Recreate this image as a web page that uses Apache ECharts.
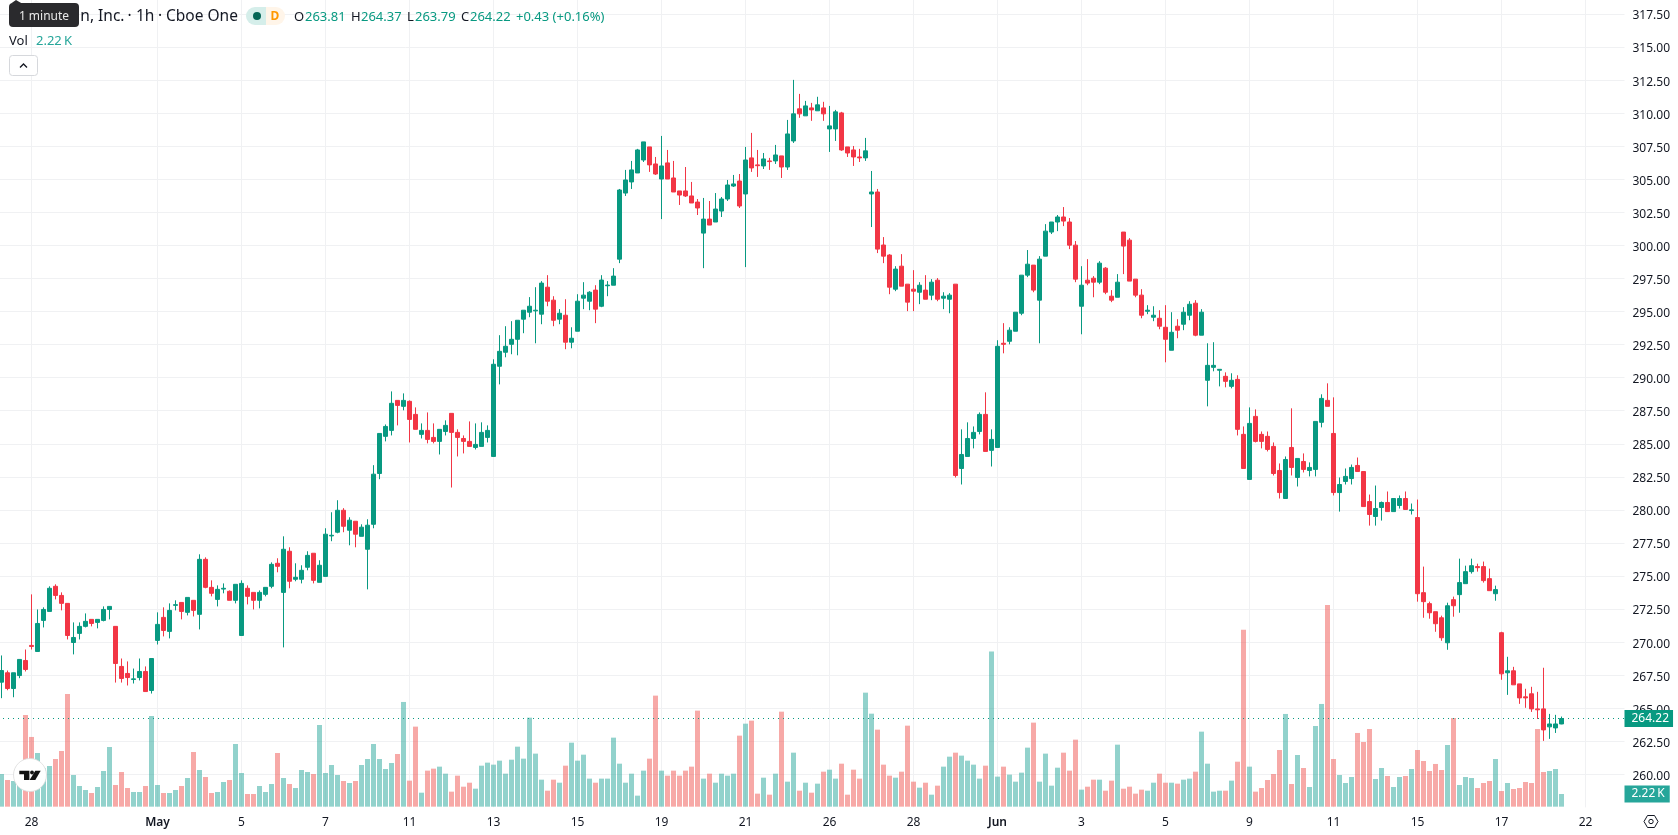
<!DOCTYPE html>
<html>
<head>
<meta charset="utf-8">
<title>Hourly price and volume</title>
<script src="https://cdn.jsdelivr.net/npm/echarts@6/dist/echarts.min.js"></script>
<style>
html,body{margin:0;padding:0;background:#fff;overflow:hidden}
#chart{width:1678px;height:835px}
</style>
</head>
<body>
<div id="chart"></div>
<script>
// Hourly session bars, oldest first.
const opens = [
266.97,267.68,266.49,267.47,268.61,269.75,269.29,271.64,272.32,274.22,
273.53,272.93,269.97,270.66,271.19,271.72,271.49,271.64,272.47,271.19,
268.16,267.63,267.17,267.32,267.78,266.34,270.13,271.87,270.81,272.78,
273.00,272.25,273.16,272.10,276.26,274.14,273.23,274.01,273.84,273.16,
270.50,274.07,273.76,273.16,273.61,274.22,275.96,273.76,276.87,274.75,
274.75,275.66,276.72,274.52,274.97,278.03,278.31,279.97,278.46,279.14,
278.00,277.02,278.91,282.75,285.56,286.01,288.28,287.83,288.21,287.22,
285.71,286.01,285.48,285.18,285.93,287.30,285.86,285.40,285.18,284.72,
284.80,285.48,284.04,290.86,291.92,292.52,292.90,294.42,294.95,295.05,
294.80,296.84,295.86,294.42,294.72,292.68,293.51,296.01,295.78,296.62,
295.40,296.95,296.99,298.96,303.96,304.80,305.48,306.46,307.45,306.16,
305.02,306.24,305.10,304.12,304.12,303.74,303.28,300.93,301.99,301.77,
302.60,303.51,304.49,304.87,303.89,306.62,306.09,306.01,306.39,306.39,
306.77,305.93,307.90,310.33,309.80,310.40,310.18,310.40,308.81,308.81,
310.02,307.45,307.22,306.69,306.62,303.89,304.04,300.03,299.27,296.69,
298.43,297.07,296.69,296.46,296.62,296.24,297.37,296.01,295.93,297.07,
283.13,284.04,285.40,285.93,287.22,284.50,284.72,292.60,292.75,293.51,
294.87,297.75,298.51,295.86,299.19,301.01,301.77,302.15,301.77,300.02,
295.40,297.37,297.52,297.22,298.28,296.16,296.08,301.01,300.40,297.45,
296.24,295.02,294.57,294.49,293.81,292.07,293.89,294.04,294.72,295.63,
293.21,289.80,290.78,290.56,290.10,289.34,289.87,285.71,282.30,287.07,
285.71,285.56,284.80,282.98,280.86,284.72,282.45,283.66,282.98,283.06,
286.62,288.28,285.78,281.31,282.15,282.37,283.36,282.90,280.63,279.50,
280.18,280.56,279.87,280.33,280.86,279.95,279.42,273.74,272.91,272.30,
271.84,269.95,273.21,273.59,274.42,275.33,275.71,275.71,274.80,273.66,
270.71,267.68,267.83,266.84,265.86,266.09,264.95,264.95,263.59,263.51,
263.81];

const closes = [
267.85,266.49,267.68,268.69,267.93,269.67,271.41,272.47,274.07,273.53,
272.93,270.50,270.35,271.19,271.57,271.41,271.72,272.47,272.70,268.38,
267.25,267.32,267.22,267.78,266.26,268.76,271.34,270.88,272.40,272.83,
272.32,273.38,272.40,276.26,274.14,273.69,273.99,274.07,273.16,274.37,
274.44,273.46,273.16,273.76,274.14,275.88,275.73,277.02,274.60,274.90,
275.43,276.56,274.67,275.81,278.16,278.08,279.97,278.76,279.22,278.16,
278.69,278.84,282.70,285.78,286.31,288.06,287.90,288.28,286.84,286.09,
286.01,285.33,285.18,286.09,286.39,285.86,285.48,285.18,284.80,284.95,
285.86,286.01,291.01,291.99,292.37,292.90,294.34,295.10,295.40,295.10,
297.15,295.78,294.34,294.87,292.68,292.98,295.78,296.24,296.46,295.18,
297.38,297.00,297.68,304.19,304.95,305.71,307.22,307.83,306.09,305.40,
306.01,305.02,304.04,303.81,303.74,303.21,302.83,301.99,301.54,302.75,
303.51,304.57,304.65,302.98,306.46,305.86,306.03,306.54,306.34,306.84,
305.93,308.43,309.95,309.95,310.55,310.25,310.63,309.95,309.04,310.10,
307.22,306.99,306.69,306.62,307.15,304.04,299.72,299.19,296.84,298.21,
296.92,295.71,296.54,296.99,295.93,297.22,295.93,296.16,296.24,282.60,
284.19,285.40,285.86,287.22,284.42,285.33,292.37,292.52,293.59,294.95,
297.75,298.58,296.62,298.96,301.08,301.77,302.15,301.84,300.02,297.45,
296.99,297.15,297.22,298.66,296.46,295.86,297.22,299.95,297.30,296.24,
294.72,295.10,294.72,293.89,292.90,293.43,293.59,294.95,295.55,293.21,
294.95,290.93,290.93,290.63,289.72,289.80,286.09,283.13,286.54,285.18,
285.18,284.57,282.75,281.31,283.81,283.21,283.89,283.06,283.21,286.69,
288.43,287.83,281.31,281.92,282.53,283.21,282.90,280.25,279.65,280.10,
280.56,279.87,280.86,280.86,280.03,280.00,273.66,273.06,272.22,271.39,
270.33,272.75,272.75,274.50,275.33,275.78,275.63,274.65,273.89,273.97,
267.60,267.83,266.77,265.78,265.78,264.95,264.88,263.36,263.81,263.81,
264.22];

const highs = [
268.99,267.85,267.68,268.69,269.44,273.61,272.47,272.63,274.22,274.37,
273.76,272.93,271.49,271.49,272.17,271.72,271.72,272.70,272.70,271.19,
268.76,268.54,268.00,268.76,268.16,268.76,272.25,272.63,272.93,273.16,
273.00,273.38,273.16,276.64,276.41,274.67,274.29,274.44,273.91,274.37,
274.67,274.29,273.76,273.91,274.14,276.03,276.34,278.00,277.17,275.96,
275.81,276.87,276.72,276.19,278.61,279.82,280.73,280.13,279.44,279.14,
278.91,279.29,283.38,285.78,286.46,288.96,288.28,288.81,288.28,287.75,
286.54,287.37,286.54,286.09,286.77,287.30,286.09,285.63,286.69,286.54,
286.62,286.39,291.39,293.21,293.89,294.27,294.34,295.10,296.09,296.84,
297.30,297.75,296.16,295.18,295.93,293.81,296.31,297.22,296.54,296.99,
297.75,297.30,298.28,304.27,305.71,306.39,307.30,307.83,307.45,306.69,
308.28,307.22,306.39,304.12,305.93,304.80,303.51,303.59,303.36,303.96,
303.66,304.95,305.33,305.40,307.45,308.51,307.22,306.99,306.62,307.60,
306.77,309.49,312.52,311.46,310.93,310.78,311.24,310.86,310.55,310.25,
310.10,307.45,307.52,307.30,308.13,305.63,304.27,300.63,299.34,298.43,
299.34,297.07,298.13,297.22,297.75,297.45,297.53,296.46,296.39,297.07,
286.09,286.62,286.31,287.37,288.89,286.09,292.83,294.12,293.81,294.95,
297.75,299.65,298.51,299.19,301.61,301.77,302.30,302.90,302.07,300.33,
298.43,298.96,297.68,298.81,298.36,296.62,297.83,301.01,300.55,297.45,
296.69,295.48,295.40,295.10,295.48,294.95,294.42,295.33,295.78,295.86,
295.18,292.60,292.68,290.63,290.40,290.33,290.18,286.31,287.75,287.60,
285.93,285.93,285.10,283.51,284.04,287.68,283.89,284.27,283.59,286.69,
288.74,289.57,288.51,282.45,283.13,283.43,283.96,282.90,281.16,281.84,
280.63,281.39,280.86,281.09,281.39,280.48,280.78,275.71,273.06,272.30,
272.00,272.98,273.44,276.31,275.78,276.31,275.93,276.09,275.56,274.27,
270.78,268.89,268.13,266.84,266.47,266.62,266.24,268.06,264.57,264.50,
264.37];

const lows = [
265.76,266.36,265.83,267.27,267.78,269.44,269.29,271.11,272.32,273.23,
272.40,270.20,269.07,270.20,271.11,271.19,271.04,271.57,271.72,266.94,
266.94,266.72,266.87,267.10,266.26,266.11,269.82,270.43,270.28,272.40,
271.72,272.02,271.94,270.96,274.07,273.46,272.70,273.69,273.16,272.93,
270.50,272.85,272.47,272.55,273.46,274.07,275.28,269.60,274.07,274.60,
274.44,275.43,274.44,274.52,274.97,277.63,278.23,278.31,277.32,277.17,
278.00,273.99,278.61,282.32,285.18,285.63,286.39,287.53,285.10,286.09,
285.40,285.03,285.03,284.19,285.63,281.69,284.04,284.27,284.80,284.57,
284.80,285.10,284.04,289.49,291.54,291.77,291.69,293.36,294.57,292.60,
294.04,295.40,293.89,294.04,292.15,292.22,293.51,295.18,295.10,294.12,
295.33,296.16,296.99,298.66,303.74,304.27,305.48,306.31,305.56,305.33,
301.99,305.02,304.04,303.06,303.66,303.21,302.30,298.28,301.54,301.77,
302.15,303.36,304.42,302.83,298.36,305.56,305.18,305.78,305.71,306.16,
305.10,305.71,307.75,309.65,309.80,309.42,310.18,309.42,307.07,307.90,
307.15,306.69,306.01,306.31,306.39,301.39,299.42,298.66,296.31,296.54,
296.92,295.03,295.03,295.56,295.93,295.86,295.78,295.18,294.87,282.45,
281.92,284.04,284.65,285.71,284.42,283.28,284.72,291.84,292.52,293.51,
294.72,297.60,296.46,292.60,299.19,300.86,301.08,301.46,299.72,297.22,
293.28,296.99,296.08,297.07,296.31,295.71,296.08,297.83,297.30,296.08,
294.49,294.80,294.27,293.66,291.16,292.07,292.98,293.59,294.34,293.13,
293.21,287.83,290.48,289.34,289.27,289.19,285.63,283.13,282.30,285.10,
284.65,284.42,282.60,280.86,280.86,282.60,281.77,282.83,282.53,282.53,
286.24,287.83,281.09,279.87,281.92,281.92,282.90,280.25,278.81,278.81,
279.19,279.87,279.87,280.10,280.03,279.65,273.06,271.84,271.77,270.78,
270.10,269.42,271.92,272.22,274.42,275.18,275.33,274.50,273.89,273.13,
267.15,266.01,266.77,265.33,265.03,264.72,264.19,262.53,262.68,263.13,
263.79];

// Traded volume per bar, in thousands of shares.
const volumes = [
5.72,4.67,4.50,6.42,16.06,12.21,9.40,6.72,7.12,8.35,
9.75,19.74,5.55,3.62,2.92,2.39,3.45,6.25,10.45,3.80,
6.07,3.27,2.57,2.57,3.62,15.88,3.80,2.39,2.39,2.92,
3.62,5.02,9.58,6.42,5.20,2.39,2.57,4.32,4.67,10.98,
5.90,2.22,2.22,3.62,2.57,3.97,9.40,5.02,3.97,3.27,
6.42,6.07,5.72,14.31,5.90,7.30,5.55,4.50,4.15,4.50,
7.30,8.35,10.98,8.35,6.60,7.65,9.23,18.34,4.56,14.02,
2.45,6.31,6.66,7.01,5.78,2.63,5.43,3.50,4.20,3.15,
7.18,7.71,7.36,8.06,5.78,8.23,10.51,8.41,15.59,9.29,
4.73,2.80,4.73,4.20,7.18,11.21,8.06,9.11,4.91,4.20,
4.91,4.91,12.09,7.53,4.20,5.78,1.93,6.31,8.41,19.45,
6.31,5.43,6.31,5.43,6.31,7.01,16.82,4.91,5.78,4.20,
5.78,5.43,5.78,12.44,14.54,15.07,2.28,5.08,2.10,5.78,
16.64,4.38,9.46,2.80,4.20,2.45,4.03,6.13,6.48,4.91,
7.53,2.10,6.48,4.91,19.97,16.29,13.49,7.36,5.43,5.08,
6.13,14.19,4.38,3.33,4.20,2.10,3.68,7.01,8.76,9.46,
8.94,8.06,7.36,4.91,7.18,27.16,5.26,7.01,5.61,4.38,
5.96,10.34,14.72,4.38,9.29,3.68,6.83,9.46,6.31,11.74,
2.98,3.50,4.73,4.73,2.80,4.56,10.86,3.15,3.50,2.28,
2.98,2.80,4.20,5.78,4.20,4.20,4.03,4.73,4.91,6.13,
13.14,7.53,2.63,2.80,2.80,4.56,7.88,31.01,7.01,2.63,
3.27,4.67,5.72,9.93,16.24,3.97,9.05,6.77,3.45,14.13,
17.99,35.33,8.35,5.55,4.15,5.20,12.91,11.33,13.61,4.85,
6.77,5.37,3.45,5.20,5.37,6.60,9.93,8.00,6.25,7.48,
6.42,10.80,15.53,3.80,5.20,5.02,3.27,4.15,4.50,8.35,
2.74,4.15,3.10,3.27,4.32,4.15,13.61,6.07,6.25,6.60,
2.22];

// Date labels and the bar slot each one sits on; slots past the last bar stay empty.
const tickLabels = ['28','May','5','7','11','13','15','19','21','26','28','Jun','3','5','9','11','15','17','22'];
const tickSlots  = [5,26,40,54,68,82,96,110,124,138,152,166,180,194,208,222,236,250,264];
const slotCount = 271;

const UP = '#089981', DOWN = '#f23645';
const VOL_TEAL = '#26a69a';
const INK = '#131722';
const GRID_LINE = '#f0f1f3';
const FONT = '"Noto Sans", sans-serif';

const categories = Array.from({length: slotCount}, (_, i) => {
  const k = tickSlots.indexOf(i);
  return k >= 0 ? tickLabels[k] : '';
});
const isTick = (i) => tickSlots.indexOf(i) >= 0;
const candles = opens.map((o, i) => [o, closes[i], lows[i], highs[i]]);
const volumeBars = volumes.map((v, i) => ({
  value: v,
  itemStyle: {color: closes[i] >= opens[i] ? 'rgba(38,166,154,0.5)' : 'rgba(239,83,80,0.5)'}
}));
const last = closes.length - 1;
const lastClose = closes[last];
const lastVolume = volumes[last];
const volumeText = lastVolume.toFixed(2) + '\u2009K';

const HEAD = '13px ' + FONT;
const TITLE = '15.5px ' + FONT;
function label(text, x, y, fill, font, align) {
  return {type: 'text', x, y, z: 100, silent: true,
    style: {text, fill, font: font || HEAD, textAlign: align || 'left', textVerticalAlign: 'middle'}};
}

const overlay = [
  // symbol title, its start tucked under the hover hint
  label('gn, Inc.', 124.5, 17, INK, TITLE, 'right'),
  label('·', 129.5, 17, INK, TITLE, 'center'),
  label('1h', 136, 17, INK, TITLE),
  label('·', 160, 17, INK, TITLE, 'center'),
  label('Cboe One', 166, 17, INK, TITLE),
  // hover hint
  {type: 'polygon', z: 101, silent: true, shape: {points: [[11,3.5],[16,0],[22,3.5]]}, style: {fill: '#2a2a2d'}},
  {type: 'rect', z: 101, silent: true, shape: {x: 9, y: 3, width: 70, height: 24, r: 4}, style: {fill: '#2a2a2d'}},
  {type: 'text', x: 44, y: 16.5, z: 102, silent: true,
    style: {text: '1 minute', fill: '#e8e8e8', font: '12px ' + FONT, textAlign: 'center', textVerticalAlign: 'middle'}},
  // market status chips
  {type: 'rect', z: 100, silent: true, shape: {x: 246, y: 7, width: 20, height: 18, r: [9,0,0,9]}, style: {fill: '#d5eeea'}},
  {type: 'rect', z: 100, silent: true, shape: {x: 266, y: 7, width: 19, height: 18, r: [0,9,9,0]}, style: {fill: '#fff5e9'}},
  {type: 'circle', z: 101, silent: true, shape: {cx: 257, cy: 16, r: 4}, style: {fill: '#056656'}},
  {type: 'text', x: 275, y: 16.5, z: 101, silent: true,
    style: {text: 'D', fill: '#ff9800', font: 'bold 12px ' + FONT, textAlign: 'center', textVerticalAlign: 'middle'}},
  // OHLC readout for the newest bar
  label('O', 294, 17, INK), label(opens[last].toFixed(2), 305, 17, UP),
  label('H', 351, 17, INK), label(highs[last].toFixed(2), 361, 17, UP),
  label('L', 407, 17, INK), label(lows[last].toFixed(2), 415, 17, UP),
  label('C', 461, 17, INK), label(closes[last].toFixed(2), 470, 17, UP),
  label('+0.43 (+0.16%)', 516, 17, UP),
  // volume readout
  label('Vol', 9, 41, INK),
  label(volumeText, 36, 41, VOL_TEAL),
  // collapse button
  {type: 'rect', z: 100, silent: true, shape: {x: 9.5, y: 55.5, width: 28, height: 20, r: 3}, style: {fill: '#fff', stroke: '#d6d8dc', lineWidth: 1}},
  {type: 'polyline', z: 101, silent: true, shape: {points: [[20,67.5],[23.5,64],[27,67.5]]}, style: {stroke: INK, fill: null, lineWidth: 1.3}},
  // watermark badge
  {type: 'circle', z: 100, silent: true, shape: {cx: 30, cy: 775, r: 16.5}, style: {fill: '#fff', stroke: 'rgba(220,220,220,0.8)', lineWidth: 1}},
  {type: 'polygon', z: 101, silent: true, shape: {points: [[19.3,770.7],[29.4,770.7],[29.4,780],[24,780],[24,774.3],[19.3,774.3]]}, style: {fill: '#131313'}},
  {type: 'circle', z: 101, silent: true, shape: {cx: 32, cy: 772.5, r: 1.9}, style: {fill: '#131313'}},
  {type: 'polygon', z: 101, silent: true, shape: {points: [[35.3,770.7],[40.7,770.7],[35.3,780],[29.6,780]]}, style: {fill: '#131313'}},
  // settings glyph in the axis corner
  {type: 'polygon', z: 100, silent: true, shape: {points: [[1644,821.5],[1647.5,815.5],[1654.5,815.5],[1658,821.5],[1654.5,827.5],[1647.5,827.5]]}, style: {fill: null, stroke: INK, lineWidth: 1}},
  {type: 'circle', z: 100, silent: true, shape: {cx: 1651, cy: 821.5, r: 2.2}, style: {fill: null, stroke: INK, lineWidth: 1}}
];

const chart = echarts.init(document.getElementById('chart'), null, {renderer: 'canvas'});
chart.setOption({
  animation: false,
  backgroundColor: '#ffffff',
  textStyle: {fontFamily: FONT},
  grid: [
    {left: -1.5, top: 0, width: 1626, height: 807.39, outerBoundsMode: 'none'},
    {left: -1.5, top: 0, width: 1626, height: 806.67, outerBoundsMode: 'none'}
  ],
  xAxis: [
    {
      type: 'category', gridIndex: 0, data: categories, boundaryGap: true,
      axisLine: {show: false}, axisTick: {show: false},
      splitLine: {show: true, alignWithLabel: true, interval: (i) => isTick(i), lineStyle: {color: GRID_LINE, width: 1}},
      axisLabel: {
        show: true, margin: 9, interval: (i) => isTick(i), color: INK, fontSize: 12, fontFamily: FONT,
        formatter: (v) => (v === 'May' || v === 'Jun') ? '{b|' + v + '}' : v,
        rich: {b: {fontWeight: 600, fontSize: 12, color: INK, fontFamily: FONT}}
      }
    },
    {type: 'category', gridIndex: 1, data: categories, show: false}
  ],
  yAxis: [
    {
      type: 'value', gridIndex: 0, position: 'right', scale: true,
      min: 257.5, max: 318.56, interval: 2.5,
      axisLine: {show: false}, axisTick: {show: false},
      splitLine: {show: true, showMinLine: false, showMaxLine: false, lineStyle: {color: GRID_LINE, width: 1}},
      axisLabel: {
        margin: 8, color: INK, fontSize: 12, fontFamily: FONT, verticalAlign: 'top', lineHeight: 4,
        showMinLabel: false, showMaxLabel: false,
        formatter: (v) => v.toFixed(2)
      }
    },
    {type: 'value', gridIndex: 1, min: 0, max: 141.3, show: false}
  ],
  series: [
    {
      type: 'bar', name: 'Volume', xAxisIndex: 1, yAxisIndex: 1, barWidth: 5, z: 1, silent: true,
      data: volumeBars,
      markLine: {
        silent: true, symbol: 'none', animation: false,
        lineStyle: {color: 'rgba(0,0,0,0)', width: 1},
        data: [{yAxis: lastVolume}],
        label: {
          show: true, position: 'end', distance: 0, formatter: volumeText,
          color: '#fff', backgroundColor: VOL_TEAL, fontSize: 12, fontFamily: FONT,
          padding: [4, 5, 1, 7], lineHeight: 12
        }
      }
    },
    {
      type: 'candlestick', name: 'Price', xAxisIndex: 0, yAxisIndex: 0, barWidth: 4, z: 3, silent: true,
      data: candles,
      itemStyle: {color: UP, color0: DOWN, borderColor: UP, borderColor0: DOWN, borderWidth: 1},
      markLine: {
        silent: true, symbol: 'none', animation: false,
        lineStyle: {color: UP, width: 1, type: [1, 4], dashOffset: 0.5},
        data: [{yAxis: lastClose}],
        label: {
          show: true, position: 'end', distance: 0, formatter: lastClose.toFixed(2),
          color: '#fff', backgroundColor: UP, fontSize: 12, fontFamily: FONT,
          padding: [4, 4, 1, 7], lineHeight: 12
        }
      }
    }
  ],
  graphic: overlay
});
</script>
</body>
</html>
